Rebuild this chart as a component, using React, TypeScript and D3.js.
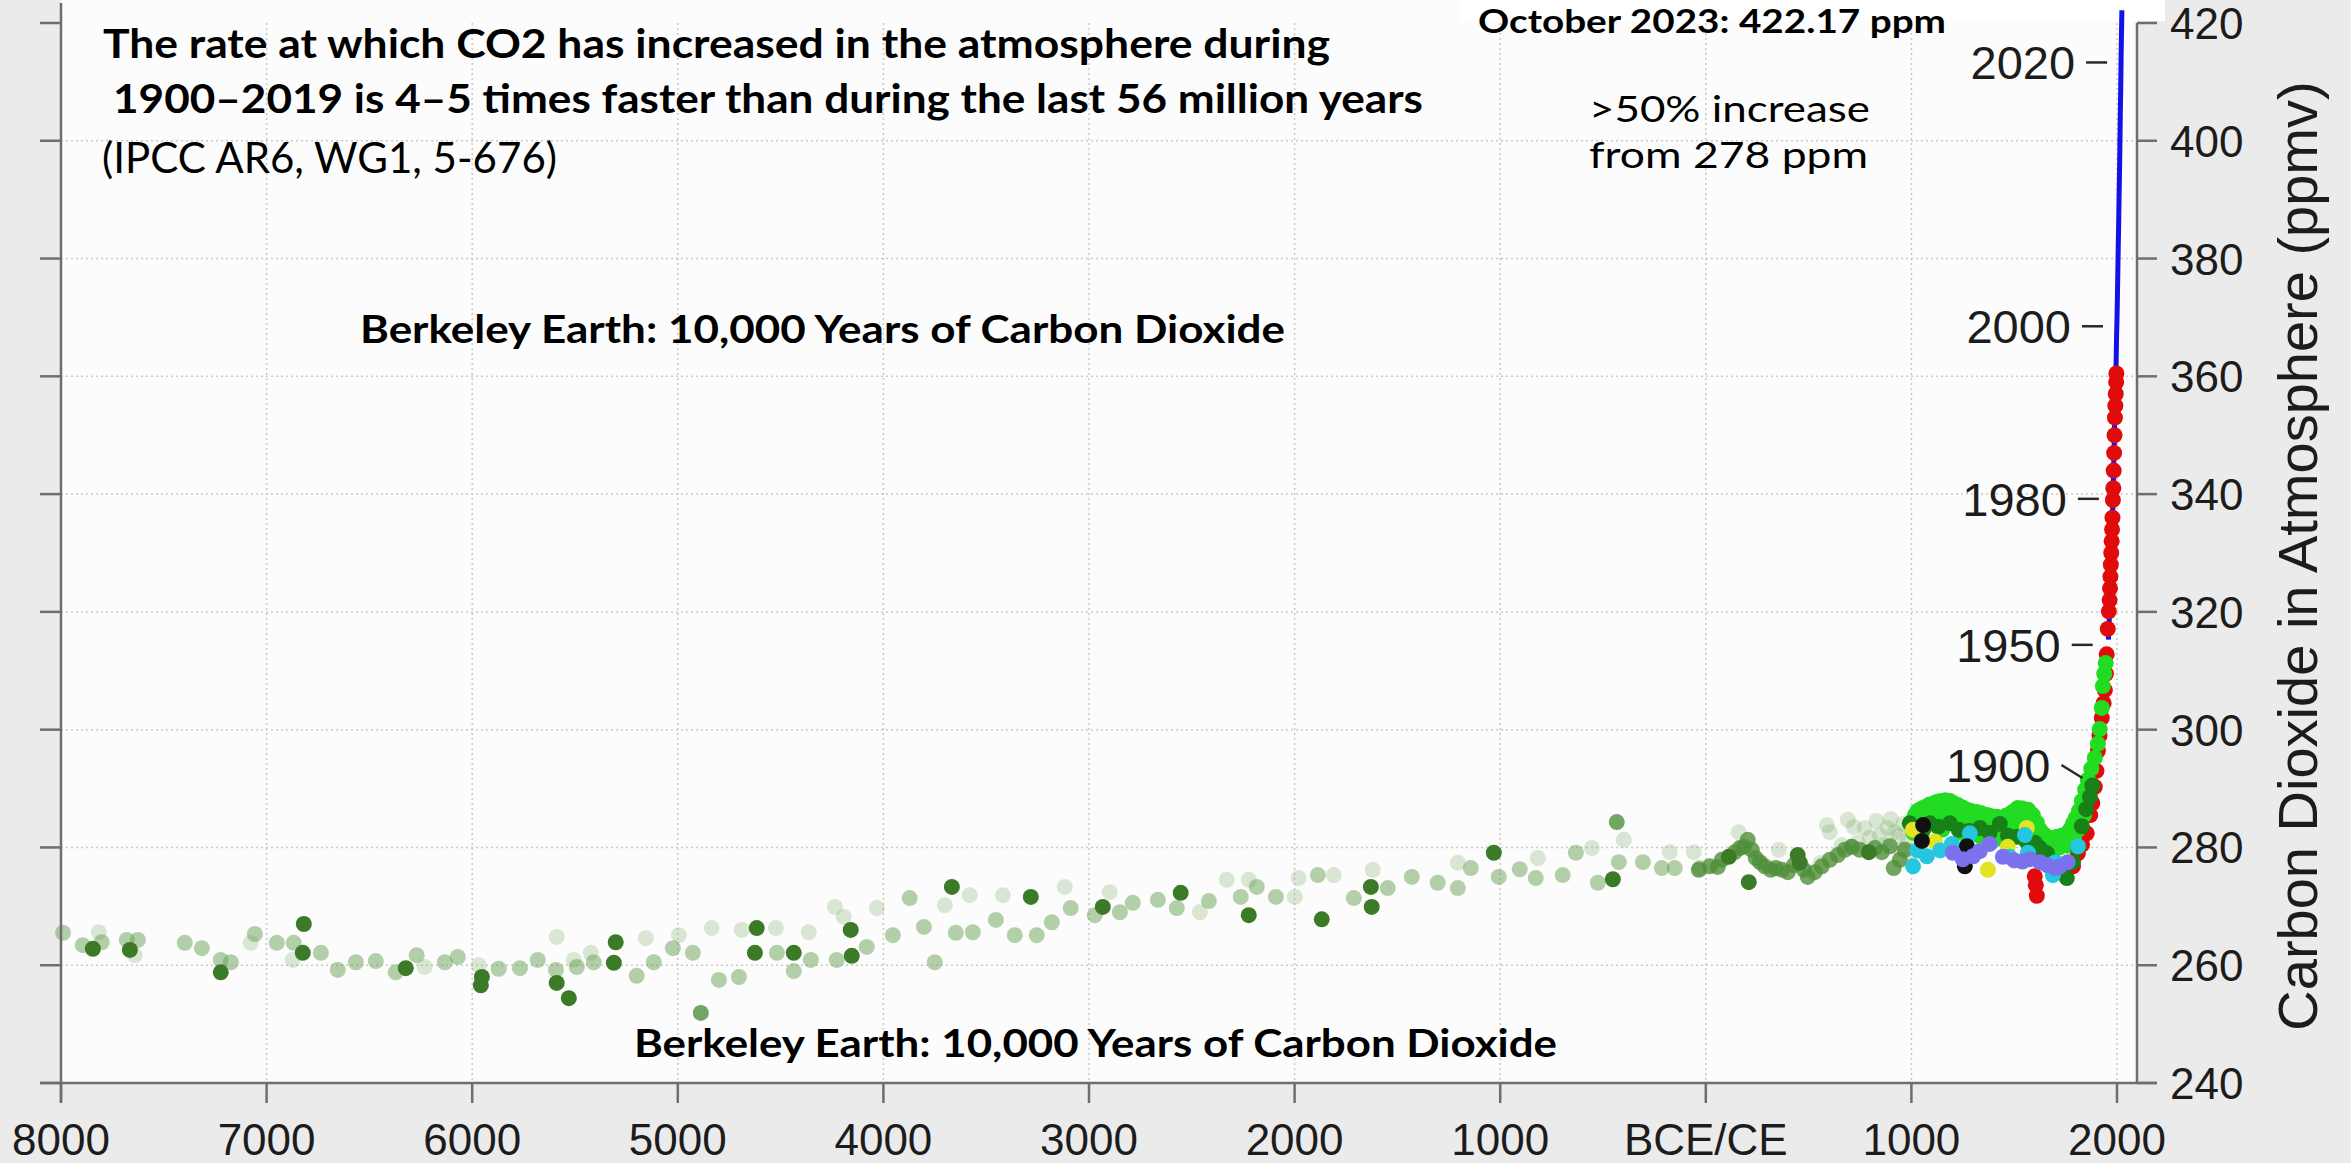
import React from "react";
import * as d3 from "d3";

const W = 2351;
const H = 1163;

// Axis ticks
const xTickValues = [-8000, -7000, -6000, -5000, -4000, -3000, -2000, -1000, 0, 1000, 2000];
const xTickLabels = ["8000", "7000", "6000", "5000", "4000", "3000", "2000", "1000", "BCE/CE", "1000", "2000"];
const yTickValues = [240, 260, 280, 300, 320, 340, 360, 380, 400, 420];
const yGridValues = [260, 280, 300, 320, 340, 360, 380, 400];

// Ice-core CO2 reconstructions: [year (negative = BCE), ppm]
const paleDots: [number, number][] = [
  [-7816, 265.6], [-7641, 261.7], [-7077, 263.8], [-6873, 260.9], [-6231, 259.7], [-5968, 260.0],
  [-5589, 264.8], [-5506, 260.9], [-5423, 262.1], [-5156, 264.6], [-4995, 265.1], [-4835, 266.3],
  [-4689, 266.0], [-4523, 266.3], [-4363, 265.6], [-4236, 269.9], [-4193, 268.2], [-4032, 269.7],
  [-3701, 270.2], [-3580, 271.9], [-3419, 271.9], [-3118, 273.3], [-2899, 272.4], [-2461, 269.0],
  [-2330, 274.5], [-2223, 274.5], [-1999, 271.6], [-1980, 274.8], [-1809, 275.3], [-1620, 276.2],
  [-1206, 277.4], [-817, 278.2], [-554, 279.9], [-399, 281.3], [-175, 279.2], [-58, 279.2],
  [160, 282.6], [355, 279.6], [559, 277.4], [589, 283.8], [603, 282.6], [661, 280.4], [691, 284.7],
  [720, 283.5], [739, 280.9], [773, 283.3], [798, 281.6], [830, 284.5], [846, 282.1], [870, 280.5],
  [885, 283.3], [900, 284.8], [919, 282.6], [940, 282.0], [948, 279.6], [960, 284.0], [982, 281.3],
  [992, 278.2],
];

const lightDots: [number, number][] = [
  [-7990, 265.5], [-7894, 263.4], [-7802, 263.9], [-7680, 264.3], [-7626, 264.3], [-7398, 263.8],
  [-7315, 262.9], [-7223, 260.9], [-7174, 260.5], [-7057, 265.3], [-6950, 263.8], [-6868, 263.8],
  [-6736, 262.1], [-6654, 259.2], [-6566, 260.5], [-6469, 260.7], [-6372, 258.8], [-6270, 261.7],
  [-6133, 260.5], [-6070, 261.4], [-5871, 259.4], [-5768, 259.5], [-5681, 260.9], [-5593, 259.2],
  [-5491, 259.7], [-5409, 260.5], [-5200, 258.2], [-5117, 260.5], [-5024, 262.9], [-4927, 262.1],
  [-4800, 257.5], [-4703, 258.0], [-4518, 262.1], [-4436, 259.0], [-4353, 260.9], [-4227, 260.9],
  [-4081, 263.1], [-3954, 265.1], [-3872, 271.4], [-3803, 266.5], [-3750, 260.5], [-3648, 265.5],
  [-3565, 265.6], [-3453, 267.7], [-3361, 265.1], [-3254, 265.1], [-3181, 267.3], [-3089, 269.7],
  [-2972, 268.5], [-2850, 269.0], [-2787, 270.6], [-2665, 271.1], [-2573, 269.7], [-2417, 270.9],
  [-2262, 271.6], [-2184, 273.3], [-2091, 271.6], [-1887, 275.3], [-1712, 271.4], [-1547, 273.1],
  [-1430, 275.0], [-1304, 274.0], [-1206, 273.1], [-1143, 276.5], [-1007, 275.0], [-905, 276.3],
  [-827, 274.8], [-696, 275.3], [-632, 279.1], [-525, 274.0], [-423, 277.5], [-306, 277.5],
  [-214, 276.5], [-151, 276.5], [-29, 276.5], [710, 280.1],
];

const midDots: [number, number][] = [
  [-4888, 251.9], [-433, 284.3],
  [-34, 276.2], [19, 276.8], [58, 276.7], [78, 277.9], [141, 279.2], [165, 279.9], [185, 280.1],
  [204, 281.3], [224, 279.6], [243, 278.2], [263, 277.5], [287, 276.8], [316, 276.2], [340, 276.5],
  [370, 276.2], [399, 275.8], [428, 277.0], [477, 276.2], [496, 275.0], [530, 275.8], [564, 276.8],
  [603, 277.9], [642, 278.7], [676, 279.6], [710, 280.1], [749, 279.6], [822, 279.9], [856, 279.2],
  [895, 280.2], [914, 276.5], [944, 277.9], [968, 279.6],
];

const darkDots: [number, number][] = [
  [-7845, 262.8], [-7665, 262.6], [-7223, 258.8], [-6819, 267.0], [-6824, 262.1], [-6323, 259.5],
  [-5953, 258.0], [-5958, 256.6], [-5589, 257.0], [-5530, 254.4], [-5302, 263.9], [-5311, 260.4],
  [-4616, 266.3], [-4625, 262.1], [-4436, 262.1], [-4159, 266.0], [-4154, 261.6], [-3667, 273.3],
  [-3283, 271.6], [-2933, 269.9], [-2554, 272.3], [-2223, 268.5], [-1868, 267.8], [-1629, 273.3],
  [-1625, 269.9], [-1031, 279.1], [-452, 274.6], [112, 278.4], [209, 274.1], [447, 278.7],
  [457, 277.4], [793, 279.2],
];

// Common-era records
const brightDots: [number, number][] = [
  [1005, 284.5], [1017, 285.5], [1030, 286.2], [1045, 286.5], [1057, 286.7], [1075, 287.0],
  [1090, 287.3], [1100, 287.2], [1115, 287.6], [1130, 287.8], [1148, 287.9], [1165, 288.0],
  [1187, 287.9], [1205, 287.5], [1226, 287.2], [1248, 286.8], [1270, 286.4], [1290, 286.2],
  [1318, 286.0], [1340, 285.8], [1367, 285.5], [1390, 285.3], [1415, 285.2], [1440, 285.0],
  [1460, 285.4], [1479, 285.7], [1500, 286.2], [1518, 286.7], [1540, 286.6], [1567, 286.4],
  [1591, 285.5], [1610, 284.2], [1625, 283.0], [1645, 282.2], [1659, 281.8], [1680, 281.6],
  [1708, 281.8], [1730, 282.0], [1756, 282.4], [1775, 283.2], [1786, 284.1], [1800, 285.0],
  [1815, 286.2], [1829, 287.9], [1845, 289.8], [1858, 291.5], [1875, 293.4], [1892, 295.2],
  [1907, 297.6], [1916, 300.1], [1926, 303.7], [1931, 307.4], [1938, 309.5], [1945, 311.3],
  [1010, 282.5], [1040, 283.5], [1070, 284.5], [1100, 285.0], [1130, 285.5], [1160, 285.8],
  [1190, 285.5], [1220, 285.0], [1250, 284.5], [1280, 284.0], [1310, 283.8], [1340, 283.5],
  [1370, 283.2], [1400, 283.0], [1430, 283.2], [1460, 283.5], [1490, 283.6], [1520, 284.0],
  [1550, 284.2], [1580, 283.5], [1050, 282.0], [1150, 283.0], [1240, 282.5], [1330, 282.0],
  [1420, 281.5], [1500, 281.8], [1560, 281.5], [1600, 281.5], [1640, 280.5], [1680, 280.0],
  [1720, 280.0], [1760, 280.3], [1790, 281.5], [1810, 283.0], [1840, 285.5],
];

const forestDots: [number, number][] = [
  [992, 284.1], [1020, 283.0], [1060, 283.2], [1090, 284.1], [1130, 283.5], [1187, 284.1],
  [1230, 283.0], [1280, 282.8], [1333, 283.3], [1380, 282.5], [1430, 284.0], [1470, 282.0],
  [1513, 281.8], [1560, 281.0], [1600, 280.8], [1625, 279.9], [1660, 279.0], [1700, 277.5],
  [1730, 276.0], [1756, 274.8], [1786, 277.5], [1810, 280.0], [1829, 283.6], [1850, 286.5],
  [1868, 288.6], [1880, 290.5],
];

const blackDots: [number, number][] = [
  [1057, 283.8], [1051, 281.1], [1270, 280.2], [1260, 276.8],
];

const yellowDots: [number, number][] = [
  [1008, 283.0], [1114, 281.0], [1372, 276.2], [1469, 280.1], [1561, 283.3],
];

const cyanDots: [number, number][] = [
  [1008, 276.8], [1030, 279.5], [1075, 278.5], [1140, 279.5], [1197, 280.6], [1284, 282.4],
  [1479, 278.4], [1552, 282.1], [1567, 279.1], [1688, 275.3], [1700, 277.5], [1810, 280.2],
];

const purpleDots: [number, number][] = [
  [1202, 279.1], [1250, 278.0], [1300, 278.5], [1333, 279.4], [1381, 280.6], [1445, 278.4],
  [1500, 277.8], [1540, 277.6], [1576, 278.0], [1625, 277.5], [1660, 277.0], [1700, 276.5],
  [1722, 276.8], [1760, 277.5],
];

const redDots: [number, number][] = [
  [1600, 275.1], [1605, 273.6], [1610, 271.8], [1700, 276.5], [1750, 277.0], [1786, 276.8],
  [1810, 279.0], [1830, 280.5], [1853, 282.4], [1870, 285.5], [1880, 287.5], [1892, 290.3],
  [1900, 293.0], [1907, 296.4], [1915, 299.0], [1926, 302.0], [1935, 304.5], [1941, 306.7],
  [1946, 309.5], [1950, 312.8], [1955, 317.1], [1960, 320.1], [1964, 322.0], [1966, 324.0],
  [1968, 326.0], [1970, 328.0], [1972, 330.0], [1974, 332.0], [1976, 334.0], [1978, 336.0],
  [1980, 339.0], [1982, 341.0], [1984, 344.0], [1986, 347.0], [1988, 350.0], [1990, 353.0],
  [1992, 355.0], [1994, 357.0], [1996, 359.0], [1997, 360.5],
];

// Instrumental record (Mauna Loa)
const mloYears = [1958, 1960, 1962, 1964, 1966, 1968, 1970, 1972, 1974, 1976, 1978, 1980, 1982, 1984,
  1986, 1988, 1990, 1992, 1994, 1996, 1998, 2000, 2002, 2004, 2006, 2008, 2010, 2012, 2014, 2016,
  2018, 2020, 2022, 2023.8];
const mloPpm = [315.3, 316.9, 318.4, 319.6, 321.4, 323.1, 325.7, 327.5, 330.2, 332.1, 335.4, 338.9,
  341.5, 344.9, 347.6, 351.6, 354.5, 356.5, 359.0, 362.8, 367.0, 369.7, 373.5, 377.7, 381.9, 385.6,
  390.1, 394.1, 398.8, 404.4, 408.7, 414.2, 418.6, 422.17];

// Year markers along the curve
const yearMarks = [2020, 2000, 1980, 1950, 1900];
const yearMarkPpm = [413.3, 368.5, 339.2, 314.4, 291.8];

const annFont = "Lato, 'Open Sans', sans-serif";
const axisFont = "'Liberation Sans', Arial, sans-serif";

export default function App() {
  const left = 61;
  const right = 2137;
  const top = 23;
  const bottom = 1083;

  const x = d3.scaleLinear().domain([-8000, 2000]).range([61, 2117]);
  const y = d3.scaleLinear().domain([240, 420]).range([bottom, top]);

  const mloLine = d3
    .line<number>()
    .x((_, i) => x(mloYears[i]))
    .y((d) => y(d))(mloPpm) || "";

  const dots = (data: [number, number][], fill: string, opacity: number, key: string) =>
    data.map(([yr, p], i) => (
      <circle key={key + i} cx={x(yr)} cy={y(p)} r={8} fill={fill} fillOpacity={opacity} />
    ));

  const axisColor = "#6e6e6e";

  return (
    <svg
      width={W}
      height={H}
      viewBox={`0 0 ${W} ${H}`}
      style={{ position: "absolute", left: 0, top: 0, display: "block" }}
    >
      <rect x={0} y={0} width={W} height={H} fill="#ebebeb" />
      <rect x={left} y={0} width={right - left} height={bottom} fill="#fcfcfc" />
      <rect x={1460} y={0} width={705} height={21} fill="#ffffff" />

      {/* grid */}
      <g stroke="#c9c9c9" strokeWidth={1.5} strokeDasharray="2 3">
        {yGridValues.map((v) => (
          <line key={"hg" + v} x1={left} x2={right} y1={y(v)} y2={y(v)} />
        ))}
        {xTickValues.slice(1).map((v) => (
          <line key={"vg" + v} x1={x(v)} x2={x(v)} y1={top} y2={bottom} />
        ))}
      </g>

      {/* ice-core scatter */}
      <g>
        {dots(paleDots, "#5a9a44", 0.22, "p")}
        {dots(lightDots, "#5a9a44", 0.45, "l")}
        {dots(midDots, "#4f8f3a", 0.8, "m")}
        {dots(darkDots, "#3b7b28", 1, "d")}
      </g>

      <path d={mloLine} fill="none" stroke="#1212e6" strokeWidth={5} />

      <g>
        {dots(redDots, "#e00c0c", 1, "r")}
        {dots(brightDots, "#22dc22", 1, "b")}
        {dots(forestDots, "#178017", 1, "f")}
        {dots(yellowDots, "#e3e324", 1, "y")}
        {dots(cyanDots, "#25c6df", 1, "c")}
        {dots(blackDots, "#111111", 1, "k")}
        {dots(purpleDots, "#7a72ec", 1, "u")}
      </g>

      {/* axes */}
      <g stroke={axisColor} strokeWidth={2.5}>
        <line x1={40} x2={2157} y1={bottom} y2={bottom} />
        <line x1={left} x2={left} y1={3} y2={bottom + 20} />
        <line x1={right} x2={right} y1={top} y2={bottom} />
        {yTickValues.map((v) => (
          <g key={"yt" + v}>
            <line x1={40} x2={left} y1={y(v)} y2={y(v)} />
            <line x1={right} x2={2157} y1={y(v)} y2={y(v)} />
          </g>
        ))}
        {xTickValues.map((v) => (
          <line key={"xt" + v} x1={x(v)} x2={x(v)} y1={bottom} y2={bottom + 20} />
        ))}
      </g>

      <g fontFamily={axisFont} fontSize={44} fill="#1c1c1c">
        {xTickValues.map((v, i) => (
          <text key={"xl" + v} x={x(v)} y={1155} textAnchor="middle">
            {xTickLabels[i]}
          </text>
        ))}
        {yTickValues.map((v) => (
          <text key={"yl" + v} x={2170} y={y(v) + 16}>
            {v}
          </text>
        ))}
      </g>

      <text
        transform="translate(2317,556) rotate(-90)"
        textAnchor="middle"
        fontFamily={axisFont}
        fontSize={56}
        fill="#1c1c1c"
      >
        Carbon Dioxide in Atmosphere (ppmv)
      </text>

      {/* year markers */}
      <g fontFamily={axisFont} fontSize={47} fill="#1c1c1c">
        {yearMarks.map((yr, i) => {
          const ax = x(yr);
          const ay = y(yearMarkPpm[i]);
          const diag = yr === 1900;
          const ty = diag ? ay - 13 : ay;
          return (
            <g key={"ym" + yr}>
              {diag ? (
                <line x1={ax - 35} y1={ay - 13} x2={ax - 14} y2={ay} stroke="#2a2a2a" strokeWidth={2.5} />
              ) : (
                <line x1={ax - 35} y1={ay} x2={ax - 14} y2={ay} stroke="#2a2a2a" strokeWidth={2.5} />
              )}
              <text x={ax - 46} y={ty + 17} textAnchor="end">
                {yr}
              </text>
            </g>
          );
        })}
      </g>

      {/* annotations */}
      <g fontFamily={annFont} fill="#000">
        <text x={103} y={58} fontSize={41} fontWeight={700} textLength={1227} lengthAdjust="spacingAndGlyphs">
          The rate at which CO2 has increased in the atmosphere during
        </text>
        <text x={113} y={113} fontSize={41} fontWeight={700} textLength={1310} lengthAdjust="spacingAndGlyphs">
          1900–2019 is 4–5 times faster than during the last 56 million years
        </text>
        <text x={102} y={173} fontSize={43} textLength={455} lengthAdjust="spacingAndGlyphs">
          (IPCC AR6, WG1, 5-676)
        </text>
        <text x={360} y={343} fontSize={39} fontWeight={700} textLength={925} lengthAdjust="spacingAndGlyphs">
          Berkeley Earth: 10,000 Years of Carbon Dioxide
        </text>
        <text x={634} y={1057} fontSize={39} fontWeight={700} textLength={923} lengthAdjust="spacingAndGlyphs">
          Berkeley Earth: 10,000 Years of Carbon Dioxide
        </text>
        <text x={1478} y={33} fontSize={33} fontWeight={700} textLength={468} lengthAdjust="spacingAndGlyphs">
          October 2023: 422.17 ppm
        </text>
        <text x={1589} y={122} fontSize={37} textLength={281} lengthAdjust="spacingAndGlyphs">
          &gt;50% increase
        </text>
        <text x={1589} y={168} fontSize={37} textLength={279} lengthAdjust="spacingAndGlyphs">
          from 278 ppm
        </text>
      </g>
    </svg>
  );
}
